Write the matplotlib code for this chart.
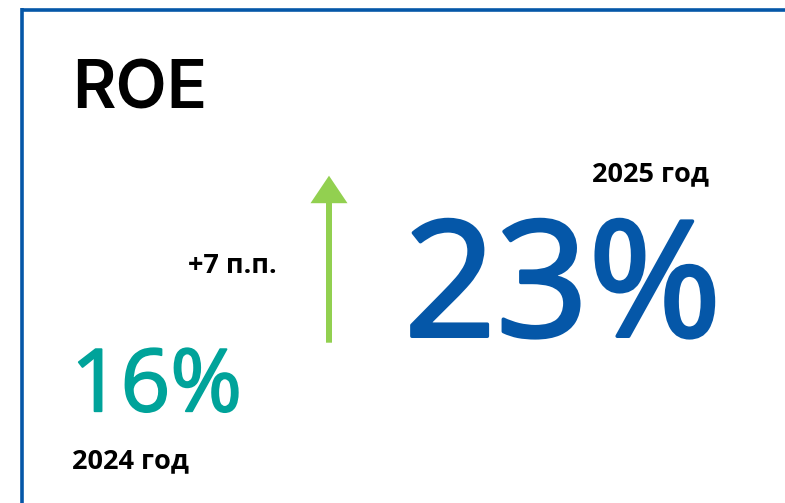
import matplotlib
matplotlib.use("Agg")
import matplotlib.pyplot as plt
import matplotlib.patheffects as pe
from matplotlib.patches import FancyArrow

# data
metric = "ROE"
years = ["2024 год", "2025 год"]
values = [16, 23]
delta_label = "+7 п.п."

FONT = ["Open Sans", "DejaVu Sans"]
BLUE = "#0557a8"
TEAL = "#00a39a"
GREEN = "#92d050"

W, H = 785, 503
fig = plt.figure(figsize=(W / 100, H / 100), dpi=100)
ax = fig.add_axes([0, 0, 1, 1])
ax.set_xlim(0, W)
ax.set_ylim(H, 0)
ax.axis("off")


def semibold(color, lw):
    return [pe.withStroke(linewidth=lw, foreground=color)]


# frame (top + left)
ax.plot([22, W + 5], [9.5, 9.5], color=BLUE, lw=2.6, solid_capstyle="butt")
ax.plot([22, 22], [8.2, H + 5], color=BLUE, lw=2.6, solid_capstyle="butt")

ax.text(72, 108.5, metric, fontsize=48, fontweight=600, family=["Inter", "Open Sans"],
        color="black", va="baseline", ha="left")

# 2024
ax.text(71, 411.2, f"{values[0]}%", fontsize=62.5, fontweight="normal", family=FONT,
        color=TEAL, va="baseline", ha="left", path_effects=semibold(TEAL, 1.4))
ax.text(72, 468, years[0], fontsize=19.5, fontweight="bold", family=FONT,
        color="black", va="baseline", ha="left")

# 2025
ax.text(592, 181.7, years[1], fontsize=19.5, fontweight="bold", family=FONT,
        color="black", va="baseline", ha="left")
ax.text(404, 336.2, f"{values[1]}%", fontsize=116, fontweight="normal", family=FONT,
        color=BLUE, va="baseline", ha="left", path_effects=semibold(BLUE, 2.6))

# delta
ax.text(188, 273, delta_label, fontsize=19.5, fontweight="bold", family=FONT,
        color="black", va="baseline", ha="left")
arr = FancyArrow(329, 342.7, 0, -(342.7 - 175.7), width=6, head_width=37,
                 head_length=27.5, length_includes_head=True, color=GREEN, lw=0)
ax.add_patch(arr)

fig.savefig("out.png", dpi=100)
